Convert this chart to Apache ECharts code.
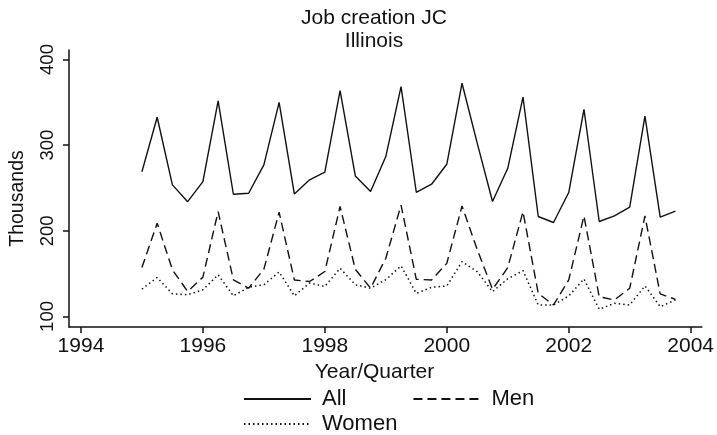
<!DOCTYPE html>
<html><head><meta charset="utf-8">
<script src="https://cdn.jsdelivr.net/npm/echarts@6/dist/echarts.min.js"></script>
<style>html,body{margin:0;padding:0;background:#fff}#c{width:717px;height:435px}</style>
</head><body><div id="c"></div>
<script>
const quarters = [1995,1995.25,1995.5,1995.75,1996,1996.25,1996.5,1996.75,1997,1997.25,1997.5,1997.75,
  1998,1998.25,1998.5,1998.75,1999,1999.25,1999.5,1999.75,2000,2000.25,2000.5,2000.75,
  2001,2001.25,2001.5,2001.75,2002,2002.25,2002.5,2002.75,2003,2003.25,2003.5,2003.75];
const allJC = [269,332.6,253.6,234, 257.5,351.6,242.7,243.9, 277,350,243,259.5,
  268.4,363.7,264,245.9, 286.7,368.4,245,254.4, 277.7,372.3,302,234.2,
  273,356,216.7,209.7, 244.7,341.9,210.9,217.5, 227.6,334,215.9,222.9];
const menJC = [157.2,208.9,154.5,129.2, 145.9,222.5,142.8,133, 155.2,221.7,142.6,140.8,
  152.5,228.4,155,133, 168,230,143.4,142.6, 162,229,178,131.7,
  157,222.3,127,113.4, 142.6,217.3,123,119.3, 132.9,217.3,126.3,120];
const womenJC = [131.9,145.5,126.4,125.3, 131.1,148.6,124.1,134, 137,152,124.1,139,
  135,156.3,137,133, 143,159,127,134, 135.6,164,152.3,129,
  144,153.5,113.4,113.4, 124,143.8,108.4,115.4, 113.4,135.6,111.4,119.3];
const xTicks = [1994,1996,1998,2000,2002,2004];
const yTicks = [100,200,300,400];
const seriesNames = ['All','Men','Women'];
const titleText = 'Job creation JC';
const subtitleText = 'Illinois';
const xName = 'Year/Quarter';
const yName = 'Thousands';

const FONT = "'Liberation Sans', Arial, sans-serif";
const INK = '#111';
const pair = arr => quarters.map((q,i)=>[q, arr[i]]);

const chart = echarts.init(document.getElementById('c'), null, {renderer:'canvas'});
chart.setOption({
  animation:false,
  backgroundColor:'#fff',
  textStyle:{fontFamily:FONT, color:INK},
  title:{
    text:titleText, subtext:subtitleText, left:369, top:3, textAlign:'center', itemGap:2,
    textStyle:{fontFamily:FONT, fontSize:21, fontWeight:'normal', color:INK},
    subtextStyle:{fontFamily:FONT, fontSize:21, color:INK}
  },
  grid:{left:67, right:13, top:50, bottom:108, containLabel:false},
  xAxis:{
    type:'value', min:1993.804, max:2004.184,
    name:xName, nameLocation:'middle', nameGap:33,
    nameTextStyle:{fontFamily:FONT, fontSize:21, color:INK, padding:[0,22,0,0]},
    axisLine:{show:true, onZero:false, lineStyle:{color:INK, width:1.5}},
    axisTick:{show:true, length:6, lineStyle:{color:INK, width:1.5}, customValues:xTicks},
    axisLabel:{fontFamily:FONT, fontSize:21, color:INK, margin:9, customValues:xTicks, formatter:v=>String(v)},
    splitLine:{show:false}
  },
  yAxis:{
    type:'value', min:87.7, max:411.1,
    name:yName, nameLocation:'middle', nameGap:41, nameRotate:90,
    nameTextStyle:{fontFamily:FONT, fontSize:19.5, color:INK, padding:[0,20,0,0]},
    axisLine:{show:true, onZero:false, lineStyle:{color:INK, width:1.5}},
    axisTick:{show:true, length:6, lineStyle:{color:INK, width:1.5}, customValues:yTicks},
    axisLabel:{fontFamily:FONT, fontSize:18.5, color:INK, rotate:90, margin:12, customValues:yTicks, formatter:v=>String(v)},
    splitLine:{show:false}
  },
  legend:[
    {data:[seriesNames[0], seriesNames[1]], left:243, top:388, padding:0, orient:'horizontal', itemWidth:67, itemHeight:14, itemGap:66,
     itemStyle:{opacity:0},
     textStyle:{fontFamily:FONT, fontSize:22, color:INK, padding:[0,0,0,6]}},
    {data:[seriesNames[2]], left:243, top:413, padding:0, orient:'horizontal', itemWidth:67, itemHeight:14,
     itemStyle:{opacity:0},
     textStyle:{fontFamily:FONT, fontSize:22, color:INK, padding:[0,0,0,6]}}
  ],
  series:[
    {name:seriesNames[0], type:'line', data:pair(allJC), symbol:'none', lineStyle:{color:INK, width:1.4, type:'solid'}, itemStyle:{color:INK}},
    {name:seriesNames[1], type:'line', data:pair(menJC), symbol:'none', lineStyle:{color:INK, width:1.4, type:[9,5]}, itemStyle:{color:INK}},
    {name:seriesNames[2], type:'line', data:pair(womenJC), symbol:'none', lineStyle:{color:INK, width:1.5, type:[1.5,3]}, itemStyle:{color:INK}}
  ]
});
</script></body></html>
